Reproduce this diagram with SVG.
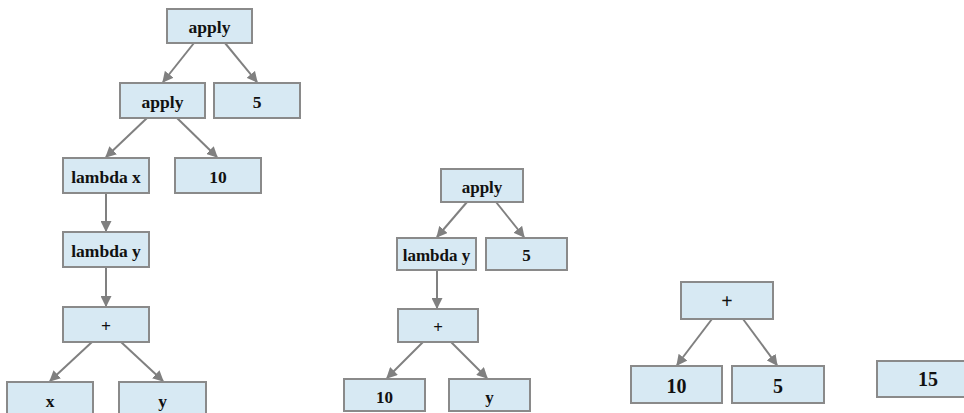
<svg xmlns="http://www.w3.org/2000/svg" width="964" height="413" viewBox="0 0 964 413">
<defs>
<style>
.n rect{fill:#d7e9f3;stroke:#8a8a8a;stroke-width:2}
.n text{font-family:"Liberation Serif","Times New Roman",serif;font-weight:bold;font-size:17.5px;fill:#111;text-anchor:middle}
.n.m text{font-size:17px}
.n.l text{font-size:20px}
.e line{stroke:#808080;stroke-width:2;marker-end:url(#ah)}
</style>
<marker id="ah" viewBox="0 0 10 10" refX="9" refY="5" markerWidth="5.5" markerHeight="5.5" orient="auto" markerUnits="strokeWidth">
<path d="M0,0 L10,5 L0,10 Z" fill="#808080"/>
</marker>
</defs>
<rect width="964" height="413" fill="#ffffff"/>
<g class="e" id="connectors">
<line x1="194" y1="43" x2="163" y2="82"/>
<line x1="225" y1="43" x2="257" y2="82"/>
<line x1="147" y1="118" x2="106" y2="157"/>
<line x1="177" y1="118" x2="217" y2="157"/>
<line x1="106" y1="193" x2="106" y2="231"/>
<line x1="106" y1="267" x2="106" y2="306"/>
<line x1="92" y1="342" x2="50" y2="381"/>
<line x1="121" y1="342" x2="163" y2="381"/>
<line x1="467" y1="202" x2="437" y2="237"/>
<line x1="496" y1="202" x2="524" y2="237"/>
<line x1="437" y1="270" x2="437" y2="308"/>
<line x1="423" y1="342" x2="387" y2="378"/>
<line x1="451" y1="342" x2="487" y2="378"/>
<line x1="712" y1="319" x2="677" y2="365"/>
<line x1="743" y1="319" x2="777" y2="365"/>
</g>
<g class="n" id="t1-apply"><rect x="167" y="9" width="85" height="34"/><text x="209.5" y="33">apply</text></g>
<g class="n" id="t1-apply2"><rect x="120" y="83" width="85" height="35"/><text x="162.5" y="108">apply</text></g>
<g class="n" id="t1-5"><rect x="214" y="83" width="86" height="35"/><text x="257" y="108">5</text></g>
<g class="n" id="t1-lambdax"><rect x="63" y="158" width="86" height="35"/><text x="106" y="183">lambda x</text></g>
<g class="n" id="t1-10"><rect x="175" y="158" width="86" height="35"/><text x="218" y="183">10</text></g>
<g class="n" id="t1-lambday"><rect x="63" y="232" width="86" height="35"/><text x="106" y="257">lambda y</text></g>
<g class="n" id="t1-plus"><rect x="63" y="307" width="86" height="35"/><text x="106" y="332">+</text></g>
<g class="n" id="t1-x"><rect x="7" y="382" width="86" height="35"/><text x="50" y="407">x</text></g>
<g class="n" id="t1-y"><rect x="119" y="382" width="87" height="35"/><text x="162.5" y="407">y</text></g>
<g class="n m" id="t2-apply"><rect x="441" y="169" width="82" height="33"/><text x="482" y="193">apply</text></g>
<g class="n m" id="t2-lambday"><rect x="397" y="238" width="79" height="32"/><text x="436.5" y="261">lambda y</text></g>
<g class="n m" id="t2-5"><rect x="486" y="238" width="81" height="32"/><text x="526.5" y="261">5</text></g>
<g class="n m" id="t2-plus"><rect x="398" y="309" width="80" height="33"/><text x="438" y="333">+</text></g>
<g class="n m" id="t2-10"><rect x="344" y="379" width="81" height="32"/><text x="384.5" y="403">10</text></g>
<g class="n m" id="t2-y"><rect x="449" y="379" width="81" height="32"/><text x="489.5" y="403">y</text></g>
<g class="n l" id="t3-plus"><rect x="681" y="282" width="92" height="37"/><text x="727" y="308">+</text></g>
<g class="n l" id="t3-10"><rect x="631" y="366" width="91" height="37"/><text x="676.5" y="393">10</text></g>
<g class="n l" id="t3-5"><rect x="732" y="366" width="92" height="37"/><text x="778" y="393">5</text></g>
<g class="n l" id="t4-15"><rect x="877" y="361" width="102" height="36"/><text x="928" y="386">15</text></g>
</svg>
